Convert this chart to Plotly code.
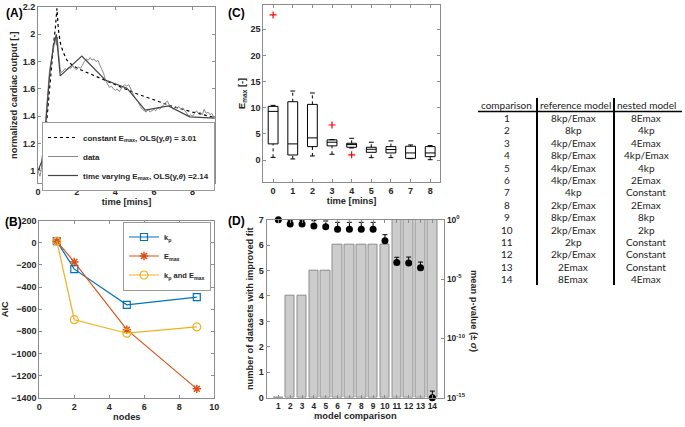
import plotly.graph_objects as go

W, H = 685, 427

# ---------------- Panel A data ----------------
data_t = [0, 0.05, 0.1, 0.15, 0.2, 0.3, 0.4, 0.5, 0.6, 0.7, 0.8, 0.85, 0.9, 0.95, 1.0, 1.05,
          1.1, 1.15, 1.2, 1.3, 1.4, 1.5, 1.6, 1.7, 1.8, 1.9, 2.0, 2.1, 2.2, 2.3, 2.4, 2.5,
          2.6, 2.7, 2.8, 2.9, 3.0, 3.1, 3.2, 3.3, 3.4, 3.5, 3.6, 3.7, 3.8, 3.9, 4.0, 4.1,
          4.2, 4.3, 4.4, 4.5, 4.6, 4.7, 4.8, 4.9, 5.0, 5.1, 5.2, 5.3, 5.4, 5.5, 5.6, 5.7,
          5.8, 5.9, 6.0, 6.1, 6.2, 6.3, 6.4, 6.5, 6.6, 6.7, 6.8, 6.9, 7.0, 7.1, 7.2, 7.3,
          7.4, 7.5, 7.6, 7.7, 7.8, 7.9, 8.0, 8.1, 8.2, 8.3, 8.4, 8.5, 8.6, 8.7, 8.8, 8.9,
          9.0, 9.1, 9.15]
data_y = [1.00, 0.98, 0.96, 0.99, 1.05, 1.18, 1.38, 1.58, 1.74, 1.82, 1.90, 1.93, 1.97, 1.92, 1.98, 1.88,
          1.80, 1.74, 1.72, 1.73, 1.75, 1.74, 1.76, 1.75, 1.77, 1.75, 1.74, 1.76, 1.75, 1.78, 1.80, 1.82,
          1.81, 1.83, 1.81, 1.82, 1.80, 1.81, 1.78, 1.75, 1.71, 1.66, 1.63, 1.61, 1.62, 1.60, 1.59, 1.60,
          1.58, 1.60, 1.62, 1.63, 1.62, 1.63, 1.60, 1.56, 1.54, 1.52, 1.50, 1.47, 1.45, 1.44, 1.43, 1.45,
          1.43, 1.44, 1.45, 1.44, 1.46, 1.45, 1.47, 1.48, 1.50, 1.51, 1.48, 1.47, 1.45, 1.47, 1.46, 1.47,
          1.45, 1.46, 1.44, 1.42, 1.40, 1.41, 1.40, 1.42, 1.44, 1.42, 1.43, 1.41, 1.45, 1.42, 1.43, 1.41,
          1.42, 1.39, 1.40]
const_t = [0, 0.2, 0.4, 0.6, 0.8, 0.9, 0.98, 1.05, 1.15, 1.3, 1.5, 1.8, 2.2, 2.7, 3.2, 4, 5, 6, 7, 8, 9.15]
const_y = [1.0, 1.04, 1.28, 1.62, 1.92, 2.05, 2.19, 2.04, 1.94, 1.87, 1.81, 1.77, 1.74, 1.71, 1.68, 1.63,
           1.57, 1.52, 1.47, 1.43, 1.39]
tv_t = [0, 0.2, 0.4, 0.6, 0.8, 0.95, 1.15, 2.27, 3.48, 4.6, 5.55, 6.75, 7.85, 9.15]
tv_y = [1.0, 1.07, 1.34, 1.70, 1.92, 2.0, 1.695, 1.84, 1.665, 1.605, 1.445, 1.475, 1.395, 1.385]

# ---------------- Panel B data ----------------
nodes = [1, 2, 5, 9]
aic_kp = [15, -238, -560, -490]
aic_emax = [15, -174, -785, -1320]
aic_both = [15, -695, -817, -760]

# ---------------- Panel C data ----------------
box_t = [0, 1, 2, 3, 4, 5, 6, 7, 8]
box_low = [0.5, 0.2, 0.77, 1.1, 2.3, 0.45, 0.45, 0.26, 0.06]
box_q1 = [3.08, 0.96, 2.56, 2.7, 2.44, 1.47, 1.35, 0.32, 0.64]
box_med = [9.3, 3.08, 4.23, 3.4, 2.95, 2.05, 2.0, 1.35, 1.35]
box_q3 = [10.26, 11.15, 10.64, 3.85, 3.2, 2.44, 2.56, 2.63, 2.56]
box_high = [10.45, 13.2, 12.82, 3.9, 4.15, 3.4, 3.65, 2.88, 2.76]
out_t = [0, 3, 4]
out_y = [27.75, 6.7, 1.0]

# ---------------- Panel D data ----------------
comp = [1, 2, 3, 4, 5, 6, 7, 8, 9, 10, 11, 12, 13, 14]
n_improved = [0, 4, 4, 5, 5, 6, 6, 6, 6, 6, 7, 7, 7, 7]
p_mean = [1.0, 0.427, 0.427, 0.295, 0.257, 0.155, 0.155, 0.155, 0.155, 0.017, 2.5e-4, 2.24e-4, 9.1e-5, 1e-15]
p_upper = [1.0, 0.87, 0.87, 0.83, 0.78, 0.60, 0.60, 0.60, 0.60, 0.055, 6.8e-4, 7.1e-4, 2.7e-4, 3.6e-15]

# ---------------- Table ----------------
tab_header = ["comparison", "reference model", "nested model"]
tab_comp = ["1", "2", "3", "4", "5", "6", "7", "8", "9", "10", "11", "12", "13", "14"]
tab_ref = ["8kp/Emax", "8kp", "4kp/Emax", "8kp/Emax", "4kp/Emax", "4kp/Emax", "4kp", "2kp/Emax",
           "8kp/Emax", "2kp/Emax", "2kp", "2kp/Emax", "2Emax", "8Emax"]
tab_nested = ["8Emax", "4kp", "4Emax", "4kp/Emax", "4kp", "2Emax", "Constant", "2Emax", "8kp", "2kp",
              "Constant", "Constant", "Constant", "4Emax"]


def fx(p):
    return p / W


def fy(p):
    return 1 - p / H


LC = "#8c8c8c"
TXT = "#262626"
TF = 9.3


def axis(**kw):
    d = dict(showline=True, linecolor=LC, linewidth=1, mirror="ticks", ticks="inside", ticklen=3,
             tickcolor=LC, showgrid=False, zeroline=False, automargin=False,
             tickfont=dict(size=9, color=TXT))
    d.update(kw)
    return d


def ttl(text, standoff=2):
    return dict(text=text, standoff=standoff, font=dict(size=TF, color=TXT))


fig = go.Figure()

# Panel A
fig.add_trace(go.Scatter(x=const_t, y=const_y, mode="lines", xaxis="x", yaxis="y",
                         line=dict(color="black", width=1.2, dash="dot"), legend="legend",
                         name="constant E<sub>max</sub>, OLS(y,<i>θ</i>) = 3.01"))
fig.add_trace(go.Scatter(x=data_t, y=data_y, mode="lines", xaxis="x", yaxis="y",
                         line=dict(color="#8a8a8a", width=1), legend="legend", name="data"))
fig.add_trace(go.Scatter(x=tv_t, y=tv_y, mode="lines", xaxis="x", yaxis="y",
                         line=dict(color="#444444", width=1.2), legend="legend",
                         name="time varying E<sub>max</sub>, OLS(y,<i>θ</i>) =2.14"))

# Panel B
fig.add_trace(go.Scatter(x=nodes, y=aic_kp, mode="lines+markers", xaxis="x2", yaxis="y2",
                         line=dict(color="#0072BD", width=1.2),
                         marker=dict(symbol="square-open", size=7, color="#0072BD", line=dict(width=1.2)),
                         legend="legend2", name="k<sub>p</sub>"))
fig.add_trace(go.Scatter(x=nodes, y=aic_emax, mode="lines+markers", xaxis="x2", yaxis="y2",
                         line=dict(color="#D95319", width=1.2),
                         marker=dict(symbol="asterisk-open", size=7, color="#D95319",
                                     line=dict(width=1.5, color="#D95319")),
                         legend="legend2", name="E<sub>max</sub>"))
fig.add_trace(go.Scatter(x=nodes, y=aic_both, mode="lines+markers", xaxis="x2", yaxis="y2",
                         line=dict(color="#EDB120", width=1.2),
                         marker=dict(symbol="circle-open", size=8, color="#EDB120", line=dict(width=1.2)),
                         legend="legend2", name="k<sub>p</sub> and E<sub>max</sub>"))

# Panel C: whiskers (dotted) and caps
wx, wy, cx, cy = [], [], [], []
for t, lo, q1, q3, hi in zip(box_t, box_low, box_q1, box_q3, box_high):
    wx += [t, t, None, t, t, None]
    wy += [lo, q1, None, q3, hi, None]
    cx += [t - 0.125, t + 0.125, None, t - 0.125, t + 0.125, None]
    cy += [lo, lo, None, hi, hi, None]
fig.add_trace(go.Scatter(x=wx, y=wy, mode="lines", xaxis="x3", yaxis="y3", showlegend=False,
                         line=dict(color="black", width=1, dash="dot"), hoverinfo="skip"))
fig.add_trace(go.Scatter(x=cx, y=cy, mode="lines", xaxis="x3", yaxis="y3", showlegend=False,
                         line=dict(color="black", width=1), hoverinfo="skip"))
fig.add_trace(go.Box(x=box_t, q1=box_q1, median=box_med, q3=box_q3, lowerfence=box_q1,
                     upperfence=box_q3, xaxis="x3", yaxis="y3", showlegend=False, width=0.5,
                     whiskerwidth=0, boxpoints=False, fillcolor="rgba(0,0,0,0)",
                     line=dict(color="black", width=1)))
fig.add_trace(go.Scatter(x=out_t, y=out_y, mode="markers", xaxis="x3", yaxis="y3", showlegend=False,
                         marker=dict(symbol="cross-thin-open", size=5, color="red",
                                     line=dict(color="red", width=1.2))))

# Panel D
fig.add_trace(go.Bar(x=comp, y=n_improved, xaxis="x4", yaxis="y4", width=0.8, showlegend=False,
                     marker=dict(color="#cccccc", line=dict(color="#8c8c8c", width=1))))
p_err = [u - m for u, m in zip(p_upper, p_mean)]
fig.add_trace(go.Scatter(x=comp, y=p_mean, mode="markers", xaxis="x4", yaxis="y5", showlegend=False,
                         cliponaxis=False, marker=dict(color="black", size=7),
                         error_y=dict(type="data", symmetric=False, array=p_err,
                                      arrayminus=[0] * len(p_err), color="black", thickness=1, width=2.5)))

layout = dict(
    width=W, height=H, autosize=False, margin=dict(l=0, r=0, t=0, b=0),
    paper_bgcolor="white", plot_bgcolor="white",
    font=dict(family="Liberation Sans, Arial, sans-serif", size=10, color=TXT, weight="bold"),
    xaxis=axis(domain=[fx(38), fx(215)], range=[0, 9.16], tickvals=[0, 2, 4, 6, 8], anchor="y",
               title=ttl("time [mins]")),
    yaxis=axis(domain=[fy(183.3), fy(7)], range=[0.908, 2.2], tickvals=[1, 1.2, 1.4, 1.6, 1.8, 2, 2.2],
               anchor="x", title=ttl("normalized cardiac output [-]", 3)),
    xaxis2=axis(domain=[fx(39.3), fx(214.3)], range=[0, 10], dtick=2, anchor="y2",
                title=ttl("nodes")),
    yaxis2=axis(domain=[fy(397.7), fy(220.7)], range=[-1400, 200], dtick=200, anchor="x2",
                title=ttl("AIC", 3)),
    xaxis3=axis(domain=[fx(263.3), fx(440)], range=[-0.5, 8.5], tickvals=box_t, anchor="y3",
                title=ttl("time [mins]")),
    yaxis3=axis(domain=[fy(181.7), fy(5)], range=[-4.15, 29.65], tickvals=[0, 5, 10, 15, 20, 25],
                anchor="x3", title=ttl("E<sub>max</sub> [-]", 3)),
    xaxis4=axis(domain=[fx(266.5), fx(444.2)], range=[0, 15], tickvals=comp, anchor="y4",
                tickangle=0, tickfont=dict(size=8.3, color=TXT), title=ttl("model comparison")),
    yaxis4=axis(domain=[fy(397.7), fy(219.7)], range=[0, 7], dtick=1, anchor="x4", mirror=False,
                title=ttl("number of datasets with improved fit", 3)),
    yaxis5=axis(domain=[fy(397.7), fy(219.7)], type="log", range=[-15, 0], overlaying="y4",
                side="right", anchor="x4", mirror=False, tickfont=dict(size=8.5, color=TXT),
                tickvals=[1, 1e-5, 1e-10, 1e-15],
                ticktext=["10<sup>0</sup>", "10<sup>-5</sup>", "10<sup>-10</sup>", "10<sup>-15</sup>"]),
    legend=dict(x=fx(42), y=fy(122), xanchor="left", yanchor="top", bgcolor="white",
                bordercolor="#9a9a9a", borderwidth=1, font=dict(size=8, color=TXT),
                itemwidth=30, tracegroupgap=0),
    legend2=dict(x=fx(123), y=fy(221.5), xanchor="left", yanchor="top", bgcolor="white",
                 bordercolor="#9a9a9a", borderwidth=1, font=dict(size=7.5, color=TXT),
                 itemwidth=30, tracegroupgap=0),
    bargap=0,
)

ann = []
for lab, x, y in [("(A)", 14, 12.5), ("(B)", 13, 222), ("(C)", 236, 12.5), ("(D)", 236, 221)]:
    ann.append(dict(text=lab, x=fx(x), y=fy(y), xref="paper", yref="paper", showarrow=False,
                    xanchor="center", yanchor="middle", font=dict(size=12, color="black", weight="bold")))
ann.append(dict(text="mean p-value (± <i>σ</i>)", x=fx(474), y=fy(311), xref="paper", yref="paper",
                showarrow=False, textangle=90, xanchor="center", yanchor="middle",
                font=dict(size=TF, color=TXT, weight="bold")))

col_x = [507, 573, 646]
hdr_x = [506, 575, 646]
tfont = dict(family="Lato, Carlito, sans-serif", size=10, color="#222222", weight="normal")
for h, x in zip(tab_header, hdr_x):
    ann.append(dict(text=h, x=fx(x), y=fy(105.5), xref="paper", yref="paper", showarrow=False,
                    xanchor="center", yanchor="middle", font=tfont))
for i, (c, r, n) in enumerate(zip(tab_comp, tab_ref, tab_nested)):
    yy = 118 + i * 12.4
    for val, x in zip([c, r, n], col_x):
        ann.append(dict(text=val, x=fx(x), y=fy(yy), xref="paper", yref="paper", showarrow=False,
                        xanchor="center", yanchor="middle", font=tfont))

shapes = [
    dict(type="line", xref="paper", yref="paper", x0=fx(478), x1=fx(682), y0=fy(111.5), y1=fy(111.5),
         line=dict(color="black", width=1.5)),
    dict(type="line", xref="paper", yref="paper", x0=fx(537), x1=fx(537), y0=fy(98), y1=fy(285),
         line=dict(color="black", width=2)),
    dict(type="line", xref="paper", yref="paper", x0=fx(614), x1=fx(614), y0=fy(98), y1=fy(285),
         line=dict(color="black", width=2)),
]

layout["annotations"] = ann
layout["shapes"] = shapes
fig.update_layout(**layout)

fig.write_html("out.html", config={"displayModeBar": False},
               post_script="document.body.style.margin='0';document.body.style.overflow='hidden';")
